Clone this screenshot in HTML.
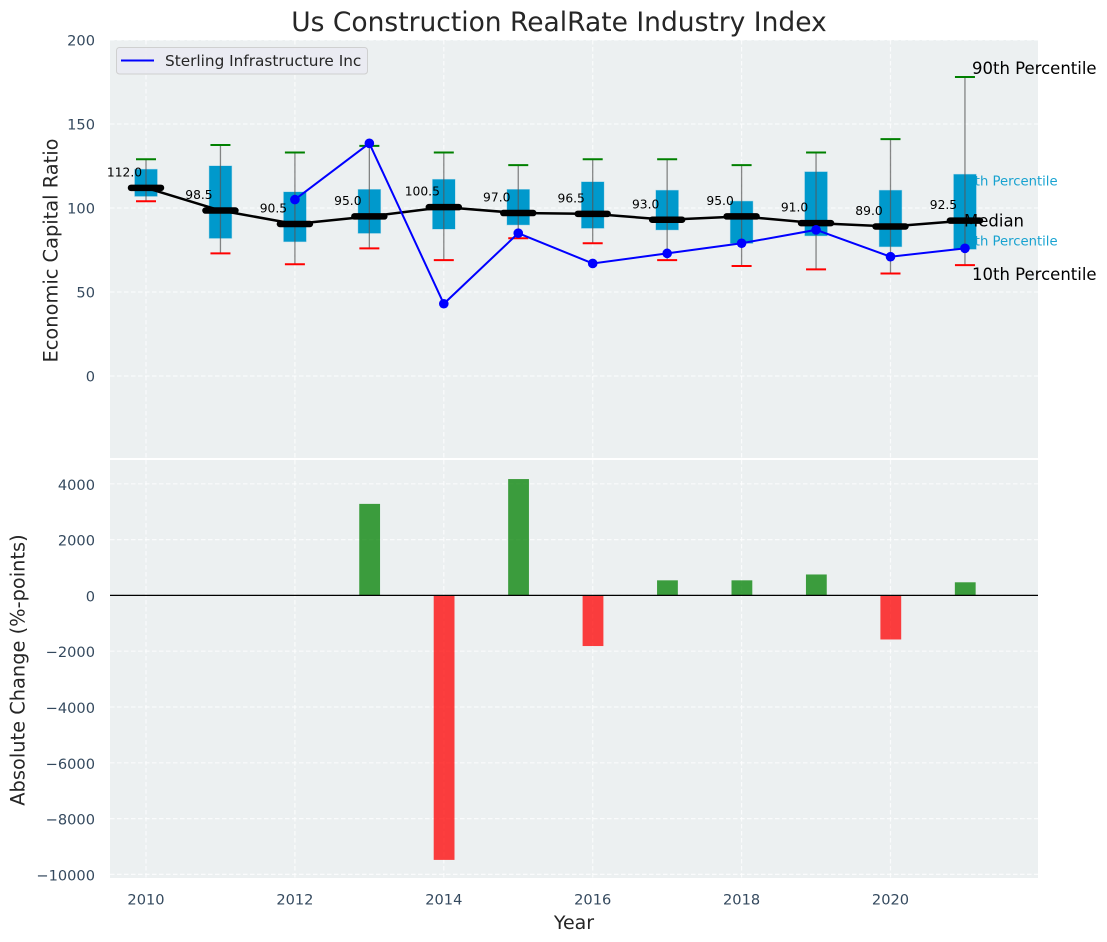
<!DOCTYPE html>
<html>
<head>
<meta charset="utf-8">
<style>
html,body{margin:0;padding:0;background:#fff;width:1107px;height:942px;overflow:hidden}
svg{display:block;font-family:"DejaVu Sans","Liberation Sans",sans-serif}
</style>
</head>
<body>
<svg id="chart" width="1107" height="942" viewBox="0 0 1107 942" xmlns="http://www.w3.org/2000/svg">
  <rect x="110" y="40" width="928" height="418" fill="#ecf0f1"/>
  <rect x="110" y="460" width="928" height="418" fill="#ecf0f1"/>
  <g id="grid"></g>
  <g id="annotations">
    <text x="972" y="74" font-size="16.500" fill="#000">90th Percentile</text>
    <text x="958" y="185.500" font-size="13.200" fill="#0099cc" fill-opacity="0.9">75th Percentile</text>
    <text x="958" y="245.500" font-size="13.200" fill="#0099cc" fill-opacity="0.9">25th Percentile</text>
    <text x="972" y="280" font-size="16.500" fill="#000">10th Percentile</text>
  </g>
  <g id="boxes"></g>
  <g id="bars"></g>
  <line x1="110" x2="1038" y1="595.400" y2="595.400" stroke="#000" stroke-width="1.300"/>
  <g id="ticks" fill="#34495e" font-size="14.600"></g>
  <text x="559" y="31" text-anchor="middle" font-size="26.500" fill="#262626">Us Construction RealRate Industry Index</text>
  <text transform="translate(57.500,250.500) rotate(-90)" text-anchor="middle" font-size="19.400" fill="#262626">Economic Capital Ratio</text>
  <text transform="translate(24.500,670) rotate(-90)" text-anchor="middle" font-size="19.400" fill="#262626">Absolute Change (%-points)</text>
  <text x="574" y="929" text-anchor="middle" font-size="19" fill="#262626">Year</text>
  <g>
    <rect x="116.500" y="47.500" width="251" height="26.500" rx="3" fill="#eaeaf2" fill-opacity="0.9" stroke="#cccccc" stroke-opacity="0.9"/>
    <line x1="121" x2="154" y1="60.500" y2="60.500" stroke="#0000ff" stroke-width="2"/>
    <text x="165" y="66" font-size="15.300" fill="#262626">Sterling Infrastructure Inc</text>
  </g>
</svg>
<script>
const years = [2010, 2011, 2012, 2013, 2014, 2015, 2016, 2017, 2018, 2019, 2020, 2021];
const p90 = [129, 137.5, 133, 137, 133, 125.5, 129, 129, 125.5, 133, 141, 178];
const p75 = [123, 125, 109.5, 111, 117, 111, 115.5, 110.5, 104, 121.5, 110.5, 120];
const medians = [112, 98.5, 90.5, 95, 100.5, 97, 96.5, 93, 95, 91, 89, 92.5];
const p25 = [107, 82, 80, 85, 87.5, 90, 88, 87, 79, 83.5, 77, 75.5];
const p10 = [104, 73, 66.5, 76, 69, 82, 79, 69, 65.5, 63.5, 61, 66];
const sterlingYears = [2012, 2013, 2014, 2015, 2016, 2017, 2018, 2019, 2020, 2021];
const sterlingValues = [105, 138.5, 43, 85, 67, 73, 79, 87, 71, 76];
const changeYears = [2013, 2014, 2015, 2016, 2017, 2018, 2019, 2020, 2021];
const changeValues = [3280, -9480, 4170, -1815, 540, 540, 750, -1580, 470];
const xTicks = [2010, 2012, 2014, 2016, 2018, 2020];
const topTicks = [0, 50, 100, 150, 200];
const bottomTicks = [-10000, -8000, -6000, -4000, -2000, 0, 2000, 4000];

const NS = 'http://www.w3.org/2000/svg';
const xScale = v => 146 + (v - 2010) * 74.45;
const yTop = v => 376 - v * 1.68;
const yBottom = v => 595.4 - v * 0.0279;

function make(tag, parent, attrs) {
  const node = document.createElementNS(NS, tag);
  for (const k in attrs) node.setAttribute(k, attrs[k]);
  document.getElementById(parent).appendChild(node);
  return node;
}
const grid = {stroke: '#ffffff', 'stroke-width': 1.2, 'stroke-dasharray': '4.500 2.500', 'stroke-opacity': 0.75};
let el;

xTicks.forEach(t => {
  el = make('line', 'grid', {...grid, x1: xScale(t), x2: xScale(t), y1: 40, y2: 458});
  
  
  el = make('line', 'grid', {...grid, x1: xScale(t), x2: xScale(t), y1: 460, y2: 878});
  
  
  el = make('text', 'ticks', {x: xScale(t), y: 904.5, 'text-anchor': 'middle'});
  el.textContent = t;
  
  
});
topTicks.forEach(t => {
  el = make('line', 'grid', {...grid, x1: 110, x2: 1038, y1: yTop(t), y2: yTop(t)});
  
  
  el = make('text', 'ticks', {x: 95, y: yTop(t) + 5.5, 'text-anchor': 'end'});
  el.textContent = t;
  
  
});
bottomTicks.forEach(t => {
  el = make('line', 'grid', {...grid, x1: 110, x2: 1038, y1: yBottom(t), y2: yBottom(t)});
  
  
  el = make('text', 'ticks', {x: 95, y: yBottom(t) + 6, 'text-anchor': 'end'});
  el.textContent = String(t).replace('-', '\u2212');
  
  
});

years.forEach((yr, i) => {
  const x = xScale(yr);
  el = make('rect', 'boxes', {x: x - 11.2, y: yTop(p75[i]), width: 22.4, height: yTop(p25[i]) - yTop(p75[i]), fill: '#0099cc', stroke: '#0099cc', 'stroke-opacity': 0.3, 'stroke-width': 1});
  
  
  el = make('line', 'boxes', {x1: x, x2: x, y1: yTop(p90[i]), y2: yTop(p10[i]), stroke: '#555', 'stroke-opacity': 0.7, 'stroke-width': 1.3});
  
  
  el = make('line', 'boxes', {x1: x - 10, x2: x + 10, y1: yTop(p90[i]), y2: yTop(p90[i]), stroke: '#008000', 'stroke-width': 2});
  
  
  el = make('line', 'boxes', {x1: x - 10, x2: x + 10, y1: yTop(p10[i]), y2: yTop(p10[i]), stroke: '#ff0000', 'stroke-width': 2});
  
  
});

el = make('text', 'boxes', {x: 964, y: 226.5, 'font-size': 16.5, fill: '#000'});
el.textContent = 'Median';



el = make('polyline', 'boxes', {points: years.map((yr, i) => xScale(yr) + ',' + yTop(medians[i])).join(' '), fill: 'none', stroke: '#000', 'stroke-width': 2.500});


years.forEach((yr, i) => {
  const x = xScale(yr);
  el = make('line', 'boxes', {x1: x - 15, x2: x + 15, y1: yTop(medians[i]), y2: yTop(medians[i]), stroke: '#000', 'stroke-width': 6.5, 'stroke-linecap': 'round'});
  
  
  el = make('text', 'boxes', {x: x - 21.5, y: yTop(medians[i]) - 11.5, 'text-anchor': 'middle', 'font-size': 12.3, fill: '#000'});
  el.textContent = medians[i].toFixed(1);
  
  
});

el = make('polyline', 'boxes', {points: sterlingYears.map((yr, i) => xScale(yr) + ',' + yTop(sterlingValues[i])).join(' '), fill: 'none', stroke: '#0000ff', 'stroke-width': 2});


sterlingYears.forEach((yr, i) => {
  el = make('circle', 'boxes', {cx: xScale(yr), cy: yTop(sterlingValues[i]), r: 4.800, fill: '#0000ff'});
  
  
});

changeYears.forEach((yr, i) => {
  const v = changeValues[i];
  const top = Math.min(yBottom(v), yBottom(0));
  el = make('rect', 'bars', {x: xScale(yr) - 10.1, y: top, width: 20.8, height: Math.abs(yBottom(v) - yBottom(0)), fill: v >= 0 ? '#008000' : '#ff0000', 'fill-opacity': 0.75});
  
  
});
</script>
</body>
</html>
